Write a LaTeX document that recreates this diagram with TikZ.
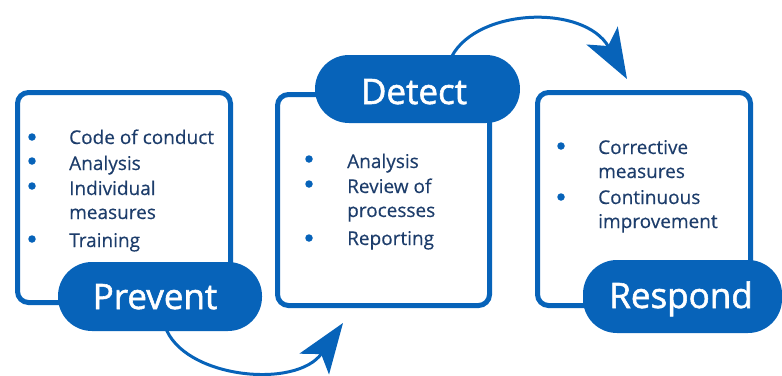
\documentclass[tikz,border=0pt]{standalone}
\usepackage{fontspec}
\setmainfont{Open Sans}
\newfontfamily\pillfont{Open Sans}[FakeBold=1.6]
\newfontfamily\itemfont{Open Sans}[FakeBold=0.4]
\usetikzlibrary{arrows.meta}
\definecolor{eyblue}{HTML}{0763B9}
\definecolor{eytext}{HTML}{1D3D6B}
\tikzset{
  card/.style={draw=eyblue, line width=5pt, rounded corners=11pt},
  pill/.style={fill=eyblue, draw=none, rounded corners=34pt},
  pilltext/.style={text=white, font=\pillfont\fontsize{35}{40}\selectfont, inner sep=0pt, anchor=base},
  itm/.style={text=eytext, font=\itemfont\fontsize{19}{22}\selectfont, inner sep=0pt, anchor=base west},
  dot/.style={circle, fill=eyblue, inner sep=0pt, minimum size=7.5pt},
  flow/.style={draw=eyblue, line width=3pt, -{Stealth[length=50pt, width=36pt, inset=12pt]}},
}
\begin{document}
\begin{tikzpicture}[x=1pt, y=-1pt]
\useasboundingbox (0,0) rectangle (782,375);
% cards
\draw[card] (17.5,92.5) rectangle (230.5,302.5);
\draw[card] (277.5,94.5) rectangle (489.5,305.5);
\draw[card] (537.5,92.5) rectangle (750.5,305.5);
% arrows
\coordinate (a1s) at (165,326);
\coordinate (a1e) at (343,323);
\coordinate (a2s) at (452,56);
\coordinate (a2e) at (627,79);
\draw[flow] (a1s) .. controls (182,378) and (296,390) .. (a1e);
\draw[flow] (a2s) .. controls (478,8) and (584,4) .. (a2e);
% pills
\fill[pill] (58,262) rectangle (262,331);
\fill[pill] (315,55) rectangle (520,123);
\fill[pill] (583,260) rectangle (782,333);
\node[pilltext] (prevent) at (155,309) {Prevent};
\node[pilltext] (detect) at (414,104) {Detect};
\node[pilltext] (respond) at (681,308) {Respond};
% Prevent items
\node[dot] (b11) at (32,137) {};
\node[dot] (b12) at (32,161) {};
\node[dot] (b13) at (32,186) {};
\node[dot] (b14) at (32,239) {};
\node[itm] (t11) at (69,144) {Code of conduct};
\node[itm] (t12) at (69,170) {Analysis};
\node[itm] (t13) at (69,195) {Individual};
\node[itm] (t13b) at (69,219) {measures};
\node[itm] (t14) at (69,247) {Training};
% Detect items
\node[dot] (b21) at (309,159) {};
\node[dot] (b22) at (309,184) {};
\node[dot] (b23) at (309,238) {};
\node[itm] (t21) at (347,168) {Analysis};
\node[itm] (t22) at (347,193) {Review of};
\node[itm] (t22b) at (347,217) {processes};
\node[itm] (t23) at (347,245) {Reporting};
% Respond items
\node[dot] (b31) at (561,146) {};
\node[dot] (b32) at (561,197) {};
\node[itm] (t31) at (598,154) {Corrective};
\node[itm] (t31b) at (598,178) {measures};
\node[itm] (t32) at (598,204) {Continuous};
\node[itm] (t32b) at (598,228) {improvement};
\end{tikzpicture}
\end{document}
